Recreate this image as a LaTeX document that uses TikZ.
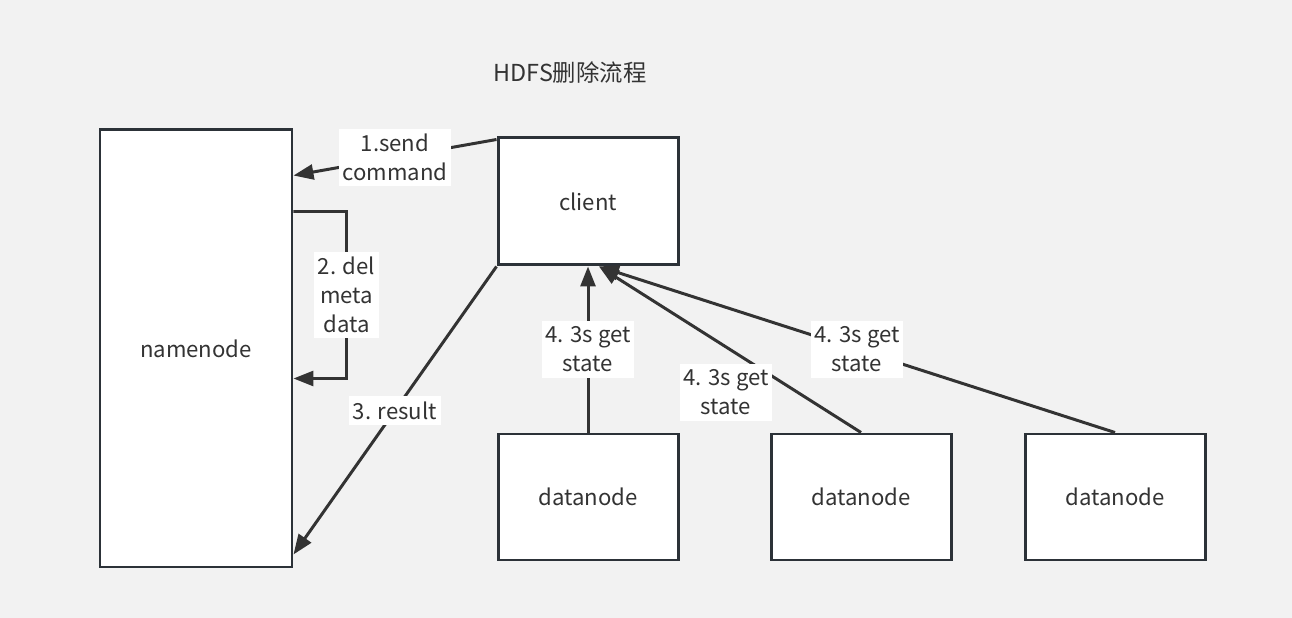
\documentclass[tikz,border=0pt]{standalone}
\usepackage{fontspec}
\setmainfont{Noto Sans CJK SC}
\usepackage{tikz}
\usetikzlibrary{arrows.meta, calc, positioning}
\definecolor{canvasgray}{RGB}{242,242,242}
\definecolor{boxedge}{RGB}{44,50,56}
\definecolor{flowline}{RGB}{51,51,51}
\tikzset{
    server/.style     = {draw = boxedge, fill = white, line width = 1.7pt, text = flowline, font = \fontsize{12.6}{16.6}\selectfont},
    flow/.style       = {draw = flowline, line width = 1.7pt, -{Triangle[length=0.4cm, width=0.3cm]}},
    step label/.style = {fill = white, text = flowline, align = center, inner xsep = 2pt, inner ysep = 3pt, font = \fontsize{12.6}{16.6}\selectfont}
}

\begin{document}
\begin{tikzpicture}
		\path[fill=canvasgray] (0,0) rectangle (25.84,12.36);
		\useasboundingbox (0,0) rectangle (25.84,12.36);

		\node[text=flowline, font=\fontsize{13.3}{17}\selectfont] (title) at (11.4,10.9) {HDFS删除流程};

		\node[server, minimum width=3.84cm, minimum height=8.74cm] (namenode) at (3.92,5.39) {namenode};
		\node[server, minimum width=3.6cm, minimum height=2.54cm] (client) at (11.76,8.33) {client};
		\node[server, minimum width=3.6cm, minimum height=2.52cm] (datanodeA) at (11.76,2.42) {datanode};
		\node[server, minimum width=3.6cm, minimum height=2.52cm] (datanodeB) at (17.22,2.42) {datanode};
		\node[server, minimum width=3.6cm, minimum height=2.52cm] (datanodeC) at (22.30,2.42) {datanode};

		\coordinate (clientfoot) at ($(client.south)+(0.22,0)$);

		\draw[flow] ($(client.north west)+(0,-0.06)$) -- node[step label] {1.send\\command} ($(namenode.north east)+(0,-0.94)$);
		\draw[flow] ($(namenode.north east)+(0,-1.66)$) -- ++(1.06,0) -- node[step label] {2. del\\meta\\data} ++(0,-3.34) -- ($(namenode.north east)+(0,-5.0)$);
		\draw[flow] (client.south west) -- node[step label] {3. result} ($(namenode.south east)+(0,0.28)$);
		\draw[flow] (datanodeA.north) -- node[step label] {4. 3s get\\state} (client.south);
		\draw[flow] (datanodeB.north) -- node[step label, yshift=-0.86cm, xshift=-0.08cm] {4. 3s get\\state} (clientfoot);
		\draw[flow] (datanodeC.north) -- node[step label] {4. 3s get\\state} (clientfoot);
	\end{tikzpicture}
\end{document}
